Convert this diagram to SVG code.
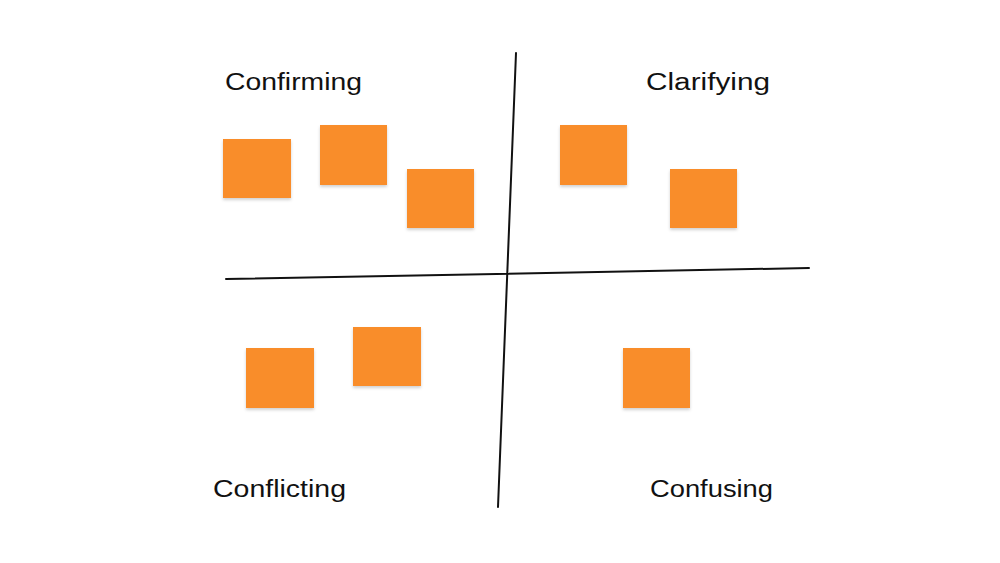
<svg xmlns="http://www.w3.org/2000/svg" width="1000" height="563" viewBox="0 0 1000 563">
<style>
.note{fill:#F98D2B;filter:url(#sh);}
.lbl{font-family:"Liberation Sans","DejaVu Sans",sans-serif;font-size:23px;fill:#111;}
.axis{stroke:#111;stroke-width:2;fill:none;stroke-linecap:round;}
</style>
<defs>
<filter id="sh" x="-10%" y="-10%" width="120%" height="130%">
<feDropShadow dx="0" dy="2" stdDeviation="1.5" flood-color="#000" flood-opacity="0.18"/>
</filter>
</defs>
<rect width="1000" height="563" fill="#fff"/>
<g id="connectors">
<path class="axis" d="M516 53 L498 507"/>
<path class="axis" d="M226 279 L809 268"/>
</g>
<g id="label-confirming"><text class="lbl" x="225" y="90" textLength="137" lengthAdjust="spacingAndGlyphs">Confirming</text></g>
<g id="label-clarifying"><text class="lbl" x="646" y="90" textLength="124" lengthAdjust="spacingAndGlyphs">Clarifying</text></g>
<g id="label-conflicting"><text class="lbl" x="213" y="497" textLength="133" lengthAdjust="spacingAndGlyphs">Conflicting</text></g>
<g id="label-confusing"><text class="lbl" x="650" y="497" textLength="123" lengthAdjust="spacingAndGlyphs">Confusing</text></g>
<g id="note1"><rect class="note" x="223" y="139" width="68" height="59"/></g>
<g id="note2"><rect class="note" x="320" y="125" width="67" height="60"/></g>
<g id="note3"><rect class="note" x="407" y="169" width="67" height="59"/></g>
<g id="note4"><rect class="note" x="560" y="125" width="67" height="60"/></g>
<g id="note5"><rect class="note" x="670" y="169" width="67" height="59"/></g>
<g id="note6"><rect class="note" x="246" y="348" width="68" height="60"/></g>
<g id="note7"><rect class="note" x="353" y="327" width="68" height="59"/></g>
<g id="note8"><rect class="note" x="623" y="348" width="67" height="60"/></g>
</svg>
